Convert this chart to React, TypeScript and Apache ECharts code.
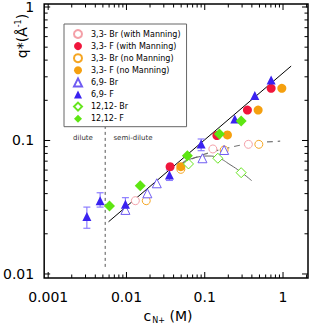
import React, { useEffect, useRef } from "react";
import * as echarts from "echarts";

// ---------- data ----------
const br33With: [number, number][] = [
  [0.013, 0.0354], [0.127, 0.0864], [0.361, 0.0936],
];
const f33With: [number, number][] = [
  [0.0361, 0.0637], [0.143, 0.109], [0.351, 0.169], [0.705, 0.246],
];
const br33No: [number, number][] = [
  [0.0179, 0.0354], [0.0495, 0.0608], [0.177, 0.0849], [0.491, 0.0936],
];
const f33No: [number, number][] = [
  [0.0495, 0.0637], [0.195, 0.11], [0.481, 0.169], [0.966, 0.246],
];
const br69: [number, number][] = [
  [0.0097, 0.0302], [0.0185, 0.0402], [0.0244, 0.0478], [0.0935, 0.0736], [0.177, 0.0849],
];
const f69: [number, number][] = [
  [0.00312, 0.0269], [0.00461, 0.0354], [0.0097, 0.0333], [0.0354, 0.0551],
  [0.09, 0.094], [0.242, 0.145], [0.436, 0.217], [0.705, 0.284],
];
const br1212: [number, number][] = [
  [0.062, 0.0667], [0.147, 0.0736], [0.292, 0.0574],
];
const f1212: [number, number][] = [
  [0.00607, 0.0323], [0.015, 0.0459], [0.06, 0.0769], [0.154, 0.112], [0.292, 0.14],
];
// error bars of 6,9-F: [x, low, high]
const f69Err: [number, number, number][] = [
  [0.00312, 0.022, 0.0317], [0.00461, 0.0317, 0.0406], [0.0097, 0.0285, 0.0373],
  [0.0354, 0.0502, 0.0601], [0.09, 0.0839, 0.1026],
];
// fit curves
const fitLine: [number, number][] = [[0.0059, 0.0246], [1.27, 0.361]];
const dashCurve: [number, number][] = [
  [0.051, 0.0675], [0.1, 0.079], [0.19, 0.0875], [0.4, 0.095], [0.92, 0.0988],
];
const solidCurve: [number, number][] = [
  [0.0535, 0.0694], [0.08, 0.075], [0.11, 0.0765], [0.15, 0.074], [0.21, 0.066], [0.29, 0.058], [0.398, 0.05],
];
const dilutionLine: [number, number][] = [[0.00535, 0.0113], [0.00535, 0.127]];

const xTickLabels: Record<string, string> = { "-3": "0.001", "-2": "0.01", "-1": "0.1", "0": "1" };
const yTickLabels: Record<string, string> = { "-2": "0.01", "-1": "0.1", "0": "1" };
const xDecades = [-3, -2, -1, 0];
const yDecades = [-3, -2, -1, 0];

const X_MIN = 0.000889, X_MAX = 2.085, Y_MIN = 0.00933, Y_MAX = 1.053;

const FONT = "DejaVu Sans";

function powLabel(v: number, map: Record<string, string>) {
  const l = Math.log10(v);
  const r = Math.round(l);
  if (Math.abs(l - r) < 1e-6) return map[String(r)] ?? "";
  return "";
}

export default function App() {
  const ref = useRef<HTMLDivElement>(null);
  useEffect(() => {
    if (!ref.current) return;
    const chart = echarts.init(ref.current, undefined, { renderer: "svg" });

    const ticks: number[][] = [];
    xDecades.forEach((d) => {
      for (let m = 1; m <= 9; m++) {
        const v = m * Math.pow(10, d);
        if (v >= X_MIN && v <= X_MAX) ticks.push([v, 0.1, 0, m === 1 ? 1 : 0]);
      }
    });
    yDecades.forEach((d) => {
      for (let m = 1; m <= 9; m++) {
        const v = m * Math.pow(10, d);
        if (v >= Y_MIN && v <= Y_MAX) ticks.push([0.01, v, 1, m === 1 ? 1 : 0]);
      }
    });

    const scatter = (name: string, data: [number, number][], symbol: string, size: number, fill: string, stroke: string) => ({
      name, type: "scatter", data, symbol, symbolSize: size, z: 4,
      itemStyle: { color: fill, borderColor: stroke, borderWidth: fill === "#ffffff" ? 1 : 0, opacity: 1 },
    });

    chart.setOption({
      animation: false,
      grid: { left: 44, right: 4, top: 4, bottom: 47, show: true, borderColor: "#000", borderWidth: 1.5, backgroundColor: "transparent" },
      xAxis: {
        type: "log", min: X_MIN, max: X_MAX,
        axisLine: { show: false }, axisTick: { show: false }, splitLine: { show: false },
        axisLabel: { formatter: (v: number) => powLabel(v, xTickLabels), fontSize: 14, fontFamily: FONT, color: "#000", margin: 12 },
      },
      yAxis: {
        type: "log", min: Y_MIN, max: Y_MAX,
        axisLine: { show: false }, axisTick: { show: false }, splitLine: { show: false },
        axisLabel: { formatter: (v: number) => powLabel(v, yTickLabels), fontSize: 14, fontFamily: FONT, color: "#000", margin: 10 },
      },
      legend: {
        orient: "vertical", left: 64, top: 24,
        padding: [5, 6, 4, 9], itemGap: 3.1, itemWidth: 8, itemHeight: 8,
        backgroundColor: "#fff", borderColor: "#666", borderWidth: 1,
        textStyle: { fontSize: 8, lineHeight: 8, fontFamily: FONT, color: "#000", padding: [0, 0, 0, 4] },
        data: ["3,3- Br (with Manning)", "3,3- F (with Manning)", "3,3- Br (no Manning)", "3,3- F (no Manning)", "6,9- Br", "6,9- F", "12,12- Br", "12,12- F"],
      },
      graphic: [
        {
          type: "text", x: 22, y: 36, rotation: Math.PI / 2,
          style: {
            text: "{m|q*(Å}{sup|-1}{m|)}", fontFamily: FONT, fill: "#000", align: "center", verticalAlign: "middle",
            rich: { m: { fontSize: 14, fontFamily: FONT }, sup: { fontSize: 8, fontFamily: FONT, padding: [0, 0, 8, 0] } },
          },
        },
        {
          type: "text", x: 168, y: 316,
          style: {
            text: "{m|c}{sub|N+}{m| (M)}", fontFamily: FONT, fill: "#000", align: "center", verticalAlign: "middle",
            rich: { m: { fontSize: 14, fontFamily: FONT }, sub: { fontSize: 8, fontFamily: FONT, padding: [8, 0, 0, 1] } },
          },
        },
        { type: "text", x: 83, y: 138, style: { text: "dilute", fontSize: 7, fontFamily: FONT, fill: "#333", align: "center", verticalAlign: "middle" } },
        { type: "text", x: 133, y: 138, style: { text: "semi-dilute", fontSize: 7, fontFamily: FONT, fill: "#333", align: "center", verticalAlign: "middle" } },
      ],
      series: [
        {
          type: "custom", name: "ticks", data: ticks, encode: { x: 0, y: 1 }, z: 5, silent: true, clip: false,
          renderItem: (params: any, api: any) => {
            const cs = params.coordSys;
            const kind = api.value(2);
            const len = api.value(3) ? 6 : 3.5;
            const st = { stroke: "#000", lineWidth: 1 };
            if (kind === 0) {
              const x = api.coord([api.value(0), 0.1])[0];
              return { type: "group", children: [
                { type: "line", shape: { x1: x, y1: cs.y + cs.height, x2: x, y2: cs.y + cs.height - len }, style: st },
                { type: "line", shape: { x1: x, y1: cs.y, x2: x, y2: cs.y + len }, style: st },
              ] };
            }
            const y = api.coord([0.01, api.value(1)])[1];
            return { type: "group", children: [
              { type: "line", shape: { x1: cs.x, y1: y, x2: cs.x + len, y2: y }, style: st },
              { type: "line", shape: { x1: cs.x + cs.width, y1: y, x2: cs.x + cs.width - len, y2: y }, style: st },
            ] };
          },
        },
        { type: "line", name: "dil", data: dilutionLine, symbol: "none", z: 1, lineStyle: { color: "#555", width: 1, type: [3, 3] } },
        { type: "line", name: "fit", data: fitLine, symbol: "none", z: 2, lineStyle: { color: "#000", width: 1 } },
        { type: "line", name: "dash", data: dashCurve, symbol: "none", smooth: true, z: 2, lineStyle: { color: "#777", width: 1.2, type: [6, 5] } },
        { type: "line", name: "solid", data: solidCurve, symbol: "none", smooth: true, z: 2, lineStyle: { color: "#666", width: 1 } },
        {
          type: "custom", name: "err", data: f69Err, encode: { x: 0, y: [1, 2] }, z: 3, silent: true,
          renderItem: (params: any, api: any) => {
            const lo = api.coord([api.value(0), api.value(1)]);
            const hi = api.coord([api.value(0), api.value(2)]);
            const w = 3.5;
            const st = { stroke: "#8c7dff", lineWidth: 1.2 };
            return { type: "group", children: [
              { type: "line", shape: { x1: lo[0], y1: lo[1], x2: hi[0], y2: hi[1] }, style: st },
              { type: "line", shape: { x1: lo[0] - w, y1: lo[1], x2: lo[0] + w, y2: lo[1] }, style: st },
              { type: "line", shape: { x1: hi[0] - w, y1: hi[1], x2: hi[0] + w, y2: hi[1] }, style: st },
            ] };
          },
        },
        scatter("3,3- Br (with Manning)", br33With, "circle", 8, "#ffffff", "#f4a0a8"),
        scatter("3,3- F (with Manning)", f33With, "circle", 9, "#f0163c", "#f0163c"),
        scatter("3,3- Br (no Manning)", br33No, "circle", 8, "#ffffff", "#f5a623"),
        scatter("3,3- F (no Manning)", f33No, "circle", 9, "#f5a00f", "#f5a00f"),
        scatter("6,9- Br", br69, "triangle", 9, "#ffffff", "#6f5cf2"),
        scatter("6,9- F", f69, "triangle", 9, "#3a22f0", "#3a22f0"),
        scatter("12,12- Br", br1212, "diamond", 10, "#ffffff", "#66e51e"),
        scatter("12,12- F", f1212, "diamond", 11, "#5ee612", "#5ee612"),
      ],
    });
    return () => chart.dispose();
  }, []);
  return <div ref={ref} style={{ width: 312, height: 325, position: "absolute", left: 0, top: 0 }} />;
}
